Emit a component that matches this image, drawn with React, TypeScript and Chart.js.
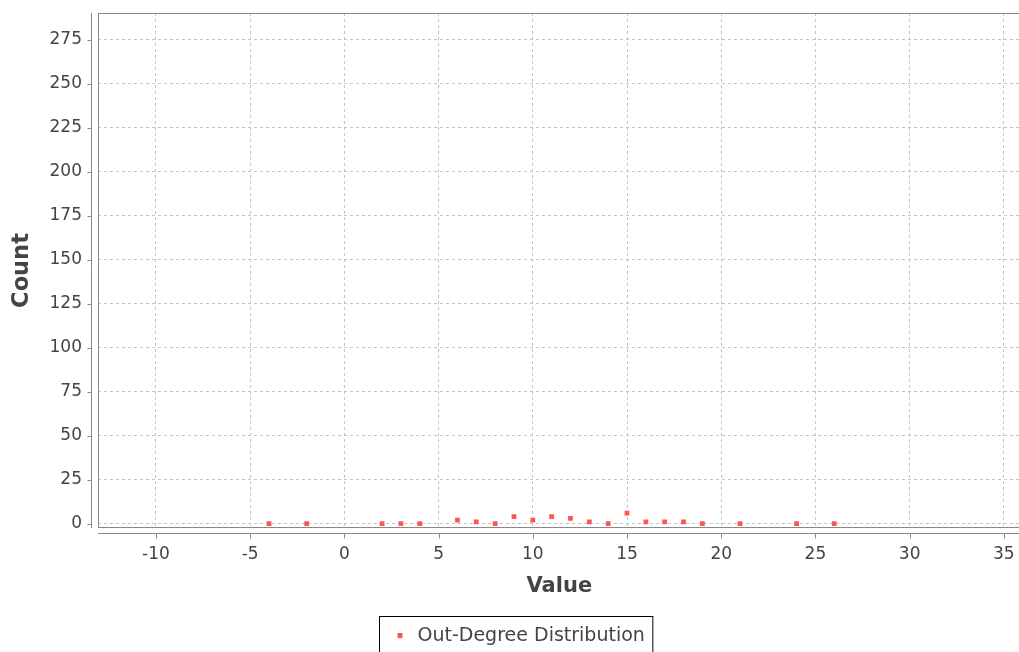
import React, { useEffect, useRef } from "react";
import { Chart, registerables } from "chart.js";

Chart.register(...registerables);

// ---- data ----
const seriesLabel = "Out-Degree Distribution";
const degreeValues = [-4, -2, 2, 3, 4, 6, 7, 8, 9, 10, 11, 12, 13, 14, 15, 16, 17, 18, 19, 21, 24, 26];
const degreeCounts = [0, 0, 0, 0, 0, 2, 1, 0, 4, 2, 4, 3, 1, 0, 6, 1, 1, 1, 0, 0, 0, 0];
const xAxisTitle = "Value";
const yAxisTitle = "Count";
const xTickValues = [-10, -5, 0, 5, 10, 15, 20, 25, 30, 35];
const yTickValues = [0, 25, 50, 75, 100, 125, 150, 175, 200, 225, 250, 275];
const xAxisRange = [-13.077, 35.89];
const yAxisRange = [-2.44, 290.2];

const FONT = "'DejaVu Sans', 'Noto Sans', sans-serif";
const TEXT = "#444444";
const AXIS = "#888888";
const GRID = "#c4c4c4";
const POINT = "#ff5555";

const framePlugin = {
  id: "frame",
  afterDraw(chart: any) {
    const { ctx, chartArea: a, scales } = chart;
    ctx.save();
    ctx.strokeStyle = AXIS;
    ctx.lineWidth = 1;
    // plot border
    ctx.strokeRect(a.left + 0.5, a.top + 0.5, a.right - a.left - 1, a.bottom - a.top - 1);
    // offset y axis line + ticks
    const yx = a.left - 6.5;
    ctx.beginPath();
    ctx.moveTo(yx, a.top);
    ctx.lineTo(yx, a.bottom);
    for (const t of scales.y.ticks) {
      const py = Math.round(scales.y.getPixelForValue(t.value)) + 0.5;
      ctx.moveTo(yx - 4, py);
      ctx.lineTo(yx, py);
    }
    // offset x axis line + ticks
    const xy = a.bottom + 5.5;
    ctx.moveTo(a.left, xy);
    ctx.lineTo(a.right, xy);
    for (const t of scales.x.ticks) {
      const px = Math.round(scales.x.getPixelForValue(t.value)) + 0.5;
      ctx.moveTo(px, xy);
      ctx.lineTo(px, xy + 5);
    }
    ctx.stroke();

    // legend box (bordered)
    const ds = chart.data.datasets[0];
    ctx.font = `19px ${FONT}`;
    const tw = ctx.measureText(ds.label).width;
    const boxW = tw + 46;
    const cx = 516;
    const left = Math.round(cx - boxW / 2) + 0.5;
    const top = a.bottom + 88.5;
    ctx.strokeStyle = "#000000";
    ctx.strokeRect(left, top, boxW, 60);
    ctx.fillStyle = ds.backgroundColor;
    ctx.fillRect(left + 18, top + 16.5, 5, 5);
    ctx.fillStyle = TEXT;
    ctx.textBaseline = "middle";
    ctx.textAlign = "left";
    ctx.fillText(ds.label, left + 38, top + 20);
    ctx.restore();
  },
};

export default function App() {
  const ref = useRef<HTMLCanvasElement | null>(null);

  useEffect(() => {
    if (!ref.current) return;
    const points = degreeValues.map((v, i) => ({ x: v, y: degreeCounts[i] }));
    const chart = new Chart(ref.current, {
      type: "scatter",
      data: {
        datasets: [
          {
            label: seriesLabel,
            data: points,
            pointStyle: "rect",
            pointRadius: 3.4,
            pointHoverRadius: 3.4,
            pointBorderWidth: 0,
            backgroundColor: POINT,
            borderColor: POINT,
          },
        ],
      },
      options: {
        animation: false,
        responsive: false,
        layout: { padding: { left: 0, top: 13, right: 3, bottom: 52 } },
        plugins: {
          legend: { display: false },
          tooltip: { enabled: false },
        },
        scales: {
          x: {
            type: "linear",
            bounds: "data",
            min: xAxisRange[0],
            max: xAxisRange[1],
            afterBuildTicks: (s: any) => {
              s.ticks = xTickValues.map((v) => ({ value: v }));
            },
            afterFit: (s: any) => {
              s.height = 80;
              s.paddingLeft = 0;
              s.paddingRight = 0;
            },
            ticks: {
              padding: 16,
              color: TEXT,
              font: { family: FONT, size: 17 },
              maxRotation: 0,
              autoSkip: false,
            },
            grid: { color: GRID, lineWidth: 1, drawTicks: false },
            border: { display: false, dash: [3, 3] },
            title: {
              display: true,
              text: xAxisTitle,
              color: TEXT,
              font: { family: FONT, size: 21, weight: "bold" },
              padding: { top: 0, bottom: 8.4 },
            },
          },
          y: {
            type: "linear",
            bounds: "data",
            min: yAxisRange[0],
            max: yAxisRange[1],
            afterBuildTicks: (s: any) => {
              s.ticks = yTickValues.map((v) => ({ value: v }));
            },
            afterFit: (s: any) => {
              s.width = 98;
              s.paddingTop = 0;
              s.paddingBottom = 0;
            },
            ticks: {
              padding: 16,
              color: TEXT,
              font: { family: FONT, size: 17 },
              autoSkip: false,
            },
            grid: { color: GRID, lineWidth: 1, drawTicks: false },
            border: { display: false, dash: [3, 3] },
            title: {
              display: true,
              text: yAxisTitle,
              color: TEXT,
              font: { family: FONT, size: 22.5, weight: "bold" },
              padding: { top: 9, bottom: 0 },
            },
          },
        },
      },
      plugins: [framePlugin],
    });
    return () => chart.destroy();
  }, []);

  return (
    <div
      style={{
        position: "absolute",
        left: 0,
        top: 0,
        width: 1019,
        height: 652,
        overflow: "hidden",
        background: "#ffffff",
      }}
    >
      <canvas ref={ref} width={1024} height={660} style={{ display: "block" }} />
    </div>
  );
}
